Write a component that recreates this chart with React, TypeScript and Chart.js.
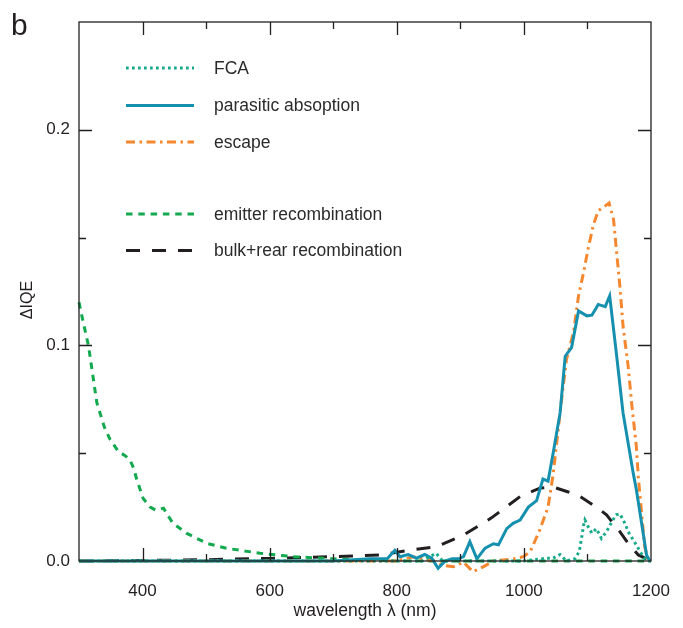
import React, { useEffect, useRef } from "react";
import { Chart, registerables } from "chart.js";

Chart.register(...registerables);

// ---------- data ----------
const fcaNm = [300, 840, 852, 862, 872, 1000, 1036, 1046, 1057, 1067, 1080, 1087, 1091, 1094, 1096, 1101, 1107, 1114, 1122, 1130, 1138, 1145, 1151, 1159, 1164, 1172, 1177, 1183, 1188, 1193, 1200];
const fcaVal = [0, 0, 0.002, 0.0036, 0, 0, 0.0013, 0.0013, 0.003, 0, 0.001, 0.0043, 0.011, 0.0167, 0.019, 0.016, 0.0129, 0.015, 0.0105, 0.0136, 0.018, 0.0214, 0.0219, 0.0175, 0.0136, 0.0098, 0.0074, 0.0043, 0.002, 0, 0];

const parasiticNm = [300, 700, 758, 785, 797, 805, 818, 831, 844, 855, 865, 876, 887, 897, 905, 915, 926, 939, 952, 960, 973, 983, 994, 1007, 1020, 1030, 1038, 1046, 1057, 1065, 1075, 1086, 1099, 1107, 1117, 1128, 1135, 1146, 1156, 1172, 1177, 1193, 1198];
const parasiticVal = [0, 0, 0.001, 0.001, 0.005, 0.002, 0.003, 0.0013, 0.003, 0.0013, -0.0034, 0, 0.001, 0.001, 0.002, 0.009, 0.001, 0.006, 0.008, 0.0075, 0.015, 0.0175, 0.019, 0.025, 0.028, 0.038, 0.037, 0.05, 0.0687, 0.095, 0.099, 0.116, 0.1137, 0.114, 0.119, 0.118, 0.123, 0.095, 0.0687, 0.0408, 0.033, 0.0028, 0];

const escapeNm = [300, 780, 800, 826, 842, 858, 873, 889, 905, 920, 936, 952, 968, 984, 999, 1010, 1025, 1038, 1046, 1057, 1067, 1078, 1086, 1094, 1101, 1109, 1117, 1125, 1134, 1141, 1146, 1151, 1156, 1164, 1170, 1177, 1180, 1185, 1190, 1196];
const escapeVal = [0, 0, 0, 0.002, 0.001, 0, -0.002, -0.0027, -0.0005, -0.005, -0.0027, 0, 0.0005, 0.001, 0.002, 0.0043, 0.0144, 0.025, 0.04, 0.069, 0.0935, 0.106, 0.123, 0.134, 0.1447, 0.1555, 0.1625, 0.164, 0.166, 0.1586, 0.143, 0.1276, 0.109, 0.0904, 0.0718, 0.053, 0.039, 0.023, 0.0067, 0];

const emitterNm = [300, 305, 315, 328, 340, 349, 362, 372, 380, 386, 391, 401, 412, 420, 427, 433, 440, 448, 469, 501, 532, 585, 637, 700, 760, 800, 900, 1000, 1100, 1200];
const emitterVal = [0.12, 0.113, 0.0997, 0.0735, 0.062, 0.0563, 0.0508, 0.049, 0.047, 0.043, 0.0377, 0.029, 0.025, 0.0237, 0.024, 0.0245, 0.021, 0.0175, 0.0129, 0.0082, 0.0059, 0.0036, 0.002, 0.001, 0.0003, 0, 0, 0, 0, 0];

const bulkNm = [300, 400, 500, 600, 700, 773, 821, 863, 905, 949, 994, 1025, 1046, 1070, 1088, 1114, 1130, 1151, 1164, 1180, 1196, 1200];
const bulkVal = [0, 0.0002, 0.0006, 0.0012, 0.002, 0.0028, 0.005, 0.0067, 0.012, 0.02, 0.0299, 0.0338, 0.0343, 0.032, 0.03, 0.025, 0.0214, 0.0136, 0.0082, 0.0028, 0.0005, 0];

const seriesLabels = ["FCA", "parasitic absoption", "escape", "emitter recombination", "bulk+rear recombination"];

const xTickLabels = [400, 600, 800, 1000, 1200];
const yTickLabels = [0, 0.1, 0.2];
const xInnerTicks = [400, 500, 600, 700, 800, 900, 1000, 1100];
const yInnerTicks = [0.05, 0.1, 0.15, 0.2];

const FONT = '"Liberation Sans", Arial, Helvetica, sans-serif';
const INK = "#231f20";

const toPts = (xs: number[], ys: number[]) => xs.map((x, i) => ({ x, y: ys[i] }));

const legendRows = [68, 105.5, 142, 214, 250.5];

const decorPlugin = {
  id: "decor",
  afterDatasetsDraw(chart: any) {
    const { ctx, chartArea: a, scales } = chart;
    const x = scales.x;
    const y = scales.y;
    ctx.save();
    ctx.strokeStyle = INK;
    ctx.lineWidth = 1.3;
    ctx.setLineDash([]);
    ctx.strokeRect(a.left, a.top, a.right - a.left, a.bottom - a.top);
    ctx.beginPath();
    xInnerTicks.forEach((v) => {
      const px = Math.round(x.getPixelForValue(v)) + 0.5;
      const len = v % 200 === 0 ? 13 : 7;
      ctx.moveTo(px, a.bottom);
      ctx.lineTo(px, a.bottom - len);
      ctx.moveTo(px, a.top);
      ctx.lineTo(px, a.top + len);
    });
    yInnerTicks.forEach((v) => {
      const py = Math.round(y.getPixelForValue(v)) + 0.5;
      const major = Math.abs(v * 10 - Math.round(v * 10)) < 1e-6;
      const len = major ? 13 : 7;
      ctx.moveTo(a.left, py);
      ctx.lineTo(a.left + len, py);
      ctx.moveTo(a.right, py);
      ctx.lineTo(a.right - len, py);
    });
    ctx.stroke();

    // legend
    chart.data.datasets.forEach((ds: any, i: number) => {
      const ry = legendRows[i];
      ctx.beginPath();
      ctx.strokeStyle = ds.borderColor;
      ctx.lineWidth = ds.borderWidth;
      ctx.setLineDash(ds.borderDash || []);
      ctx.lineCap = "butt";
      ctx.moveTo(126, ry);
      ctx.lineTo(194, ry);
      ctx.stroke();
      ctx.setLineDash([]);
      ctx.fillStyle = "#2b2b2b";
      ctx.font = `17.5px ${FONT}`;
      ctx.textBaseline = "middle";
      ctx.textAlign = "left";
      ctx.fillText(ds.label, 214, ry + 1);
    });

    // titles
    ctx.fillStyle = INK;
    ctx.font = `17.5px ${FONT}`;
    ctx.textAlign = "center";
    ctx.textBaseline = "middle";
    ctx.fillText("wavelength \u03bb (nm)", (a.left + a.right) / 2, 611);

    ctx.save();
    ctx.translate(28, 300);
    ctx.rotate(-Math.PI / 2);
    ctx.font = `16px ${FONT}`;
    ctx.fillText("\u0394IQE", 0, 0);
    ctx.restore();

    ctx.font = `30px ${FONT}`;
    ctx.textAlign = "left";
    ctx.textBaseline = "alphabetic";
    ctx.fillText("b", 11, 35);
    ctx.restore();
  },
};

export default function App() {
  const ref = useRef<HTMLCanvasElement | null>(null);
  useEffect(() => {
    if (!ref.current) return;
    const common = { pointRadius: 0, borderWidth: 3, fill: false, tension: 0, clip: false as any };
    const chart = new Chart(ref.current, {
      type: "line",
      data: {
        datasets: [
          { ...common, label: seriesLabels[0], data: toPts(fcaNm, fcaVal), borderColor: "#16a98a", borderDash: [2.7, 3.3] },
          { ...common, label: seriesLabels[1], data: toPts(parasiticNm, parasiticVal), borderColor: "#1590ae", borderDash: [] },
          { ...common, label: seriesLabels[2], data: toPts(escapeNm, escapeVal), borderColor: "#f5872f", borderDash: [9, 4.5, 2.5, 4.5] },
          { ...common, label: seriesLabels[3], data: toPts(emitterNm, emitterVal), borderColor: "#12a94f", borderDash: [6.5, 5.8] },
          { ...common, label: seriesLabels[4], data: toPts(bulkNm, bulkVal), borderColor: "#231f20", borderDash: [14, 12] },
        ],
      },
      options: {
        animation: false,
        responsive: false,
        devicePixelRatio: 1,
        layout: { padding: { top: 22, right: 32, left: 0, bottom: 0 } },
        plugins: { legend: { display: false }, tooltip: { enabled: false }, title: { display: false } },
        scales: {
          x: {
            type: "linear",
            min: 300,
            max: 1200,
            grid: { display: false, drawTicks: false },
            border: { display: false },
            afterBuildTicks: (s: any) => {
              s.ticks = xTickLabels.map((v) => ({ value: v }));
            },
            afterFit: (s: any) => {
              s.height = 67;
              s.paddingRight = 0;
              s.paddingLeft = 0;
            },
            ticks: { padding: 20, color: INK, font: { family: FONT, size: 17 }, maxRotation: 0, callback: (v: any) => String(v) },
          },
          y: {
            type: "linear",
            min: 0,
            max: 0.25,
            grid: { display: false, drawTicks: false },
            border: { display: false },
            afterBuildTicks: (s: any) => {
              s.ticks = yTickLabels.map((v) => ({ value: v }));
            },
            afterFit: (s: any) => {
              s.width = 79;
              s.paddingTop = 0;
              s.paddingBottom = 0;
            },
            ticks: { padding: 9, color: INK, font: { family: FONT, size: 17 }, callback: (v: any) => Number(v).toFixed(1) },
          },
        },
      },
      plugins: [decorPlugin],
    });
    return () => chart.destroy();
  }, []);
  return (
    <div style={{ position: "absolute", left: 0, top: 0, width: 683, height: 628, background: "#fff" }}>
      <canvas ref={ref} width={683} height={628} style={{ display: "block" }} />
    </div>
  );
}
